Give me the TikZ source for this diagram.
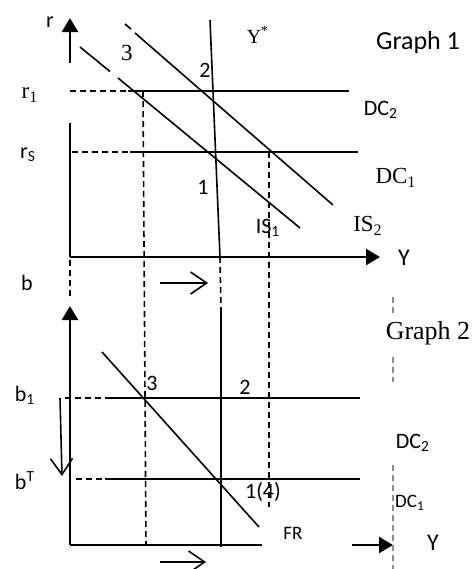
\documentclass[tikz,border=0pt]{standalone}
\usepackage{fontspec}
\setmainfont{Liberation Serif}
\setsansfont{Carlito}
\usetikzlibrary{arrows.meta}
\tikzset{
  axisline/.style={line width=1.25pt},
  curve/.style={line width=.8pt},
  guide/.style={line width=.8pt,dash pattern=on 3pt off 2pt},
  faint/.style={line width=.7pt,draw=black!45,dash pattern=on 3pt off 2pt},
  axisarrow/.style={-{Triangle[length=7pt,width=8pt]}},
  movearrow/.style={line width=.8pt,-{Straight Barb[length=8pt,width=11pt,line width=.8pt]}},
  lab/.style={font=\sffamily\fontsize{11}{13}\selectfont,inner sep=0pt},
  tlab/.style={font=\rmfamily\fontsize{11.5}{13}\selectfont,inner sep=0pt},
}

\begin{document}
\begin{tikzpicture}[x=0.5pt,y=-0.5pt]
    \useasboundingbox (0,0) rectangle (473,569);
    % graph 1: interest rate and output
    \coordinate (O1) at (70,257);
    \coordinate (rgap) at (70,123); \coordinate (rtop) at (70,63); \coordinate (rtip) at (70,18);
    \coordinate (Ytip) at (380,257);
    \draw[axisline] (O1) -- (rgap);
    \draw[axisline,axisarrow] (rtop) -- (rtip);
    \draw[axisline,axisarrow] (O1) -- (Ytip);
    % DC lines
    \coordinate (r1a) at (70,91); \coordinate (r1b) at (128,91); \coordinate (r1c) at (349,91);
    \coordinate (rSa) at (72,152); \coordinate (rSb) at (130,152); \coordinate (rSc) at (358,152);
    \draw[guide] (r1a) -- (r1b); \draw[curve] (r1b) -- (r1c);
    \draw[guide] (rSa) -- (rSb); \draw[curve] (rSb) -- (rSc);
    % IS curves
    \coordinate (is1a) at (80,47); \coordinate (is1b) at (110,71.5);
    \coordinate (is1c) at (118,78); \coordinate (is1d) at (300,228);
    \draw[curve] (is1a) -- (is1b); \draw[curve] (is1c) -- (is1d);
    \coordinate (is2a) at (125,24); \coordinate (is2b) at (131,29);
    \coordinate (is2c) at (135,33); \coordinate (is2d) at (333,205);
    \draw[curve] (is2a) -- (is2b); \draw[curve] (is2c) -- (is2d);
    % full employment output
    \coordinate (ysa) at (210,20); \coordinate (ysb) at (220,257);
    \coordinate (ysc) at (221,310); \coordinate (ysd) at (221,547);
    \draw[curve] (ysa) -- (ysb); \draw[guide] (ysb) -- (ysc); \draw[curve] (ysc) -- (ysd);
    % vertical guides
    \coordinate (g3a) at (143,91); \coordinate (g3b) at (146,545);
    \coordinate (g4a) at (269,152); \coordinate (g4b) at (269,507);
    \draw[guide] (g3a) -- (g3b);
    \draw[guide] (g4a) -- (g4b);
    \node[lab] (r) at (50,22) {r};
    \node[tlab] (r1) at (30,95) {r\textsubscript{1}};
    \node[lab] (rS) at (28,155) {r\textsubscript{S}};
    \node[tlab,font=\rmfamily\fontsize{10}{12}\selectfont] (ystar) at (258,35) {Y\textsuperscript{*}};
    \node[lab,font=\sffamily\fontsize{13}{15}\selectfont] (g1) at (418,43) {Graph 1};
    \node[tlab] (p3) at (127,53) {3};
    \node[lab] (p2) at (205,70) {2};
    \node[lab] (p1) at (203,187) {1};
    \node[lab] (dc2) at (381,110) {DC\textsubscript{2}};
    \node[tlab] (dc1) at (396,178) {DC\textsubscript{1}};
    \node[lab] (is1) at (268,228) {IS\textsubscript{1}};
    \node[tlab] (is2) at (368,226) {IS\textsubscript{2}};
    \node[lab,font=\sffamily\fontsize{12}{14}\selectfont] (Y1) at (404,258) {Y};
    % graph 2: debt and output
    \coordinate (O2) at (70,545);
    \coordinate (bdash) at (70,260); \coordinate (bdash2) at (70,300); \coordinate (btip) at (70,306);
    \coordinate (Ygap1) at (262,545); \coordinate (Ygap2) at (352,545); \coordinate (Ytip2) at (393,545);
    \draw[guide] (bdash) -- (bdash2);
    \draw[axisline,axisarrow] (O2) -- (btip);
    \draw[axisline] (O2) -- (Ygap1);
    \draw[axisline,axisarrow] (Ygap2) -- (Ytip2);
    \coordinate (b1a) at (65,398); \coordinate (b1b) at (110,398); \coordinate (b1c) at (360,398);
    \coordinate (bTa) at (76,479); \coordinate (bTb) at (105,479); \coordinate (bTc) at (360,479);
    \draw[guide] (b1a) -- (b1b); \draw[curve] (b1b) -- (b1c);
    \draw[guide] (bTa) -- (bTb); \draw[curve] (bTb) -- (bTc);
    \coordinate (fra) at (102,352); \coordinate (frb) at (259,527);
    \draw[curve] (fra) -- (frb);
    % adjustment arrows
    \coordinate (da) at (60,398); \coordinate (db) at (62,476);
    \coordinate (ra) at (160,283); \coordinate (rb) at (208,283);
    \coordinate (sa) at (160,562); \coordinate (sb) at (206,562);
    \draw[movearrow] (da) -- (db);
    \draw[movearrow] (ra) -- (rb);
    \draw[movearrow] (sa) -- (sb);
    % faint line on the right
    \coordinate (fa) at (393,297); \coordinate (fb) at (393,313);
    \coordinate (fc) at (393,357); \coordinate (fd) at (393,382);
    \coordinate (fe) at (393,465); \coordinate (ff) at (393,569);
    \draw[faint] (fa) -- (fb); \draw[faint] (fc) -- (fd); \draw[faint] (fe) -- (ff);
    \node[lab] (b) at (27,283) {b};
    \node[lab] (b1) at (25,395) {b\textsubscript{1}};
    \node[lab] (bT) at (25,481) {b\textsuperscript{T}};
    \node[lab] (q3) at (152,383) {3};
    \node[lab] (q2) at (245,387) {2};
    \node[lab] (q14) at (263,492) {1(4)};
    \node[lab,font=\sffamily\fontsize{9.5}{11}\selectfont] (fr) at (293,533) {FR};
    \node[lab,font=\sffamily\fontsize{12}{14}\selectfont] (Y2) at (433,543) {Y};
    \node[tlab,font=\rmfamily\fontsize{13}{15}\selectfont] (g2) at (428,333) {Graph 2};
    \node[lab] (dcb2) at (413,443) {DC\textsubscript{2}};
    \node[lab,font=\sffamily\fontsize{9.5}{11}\selectfont] (dcb1) at (410,503) {DC\textsubscript{1}};
\end{tikzpicture}
\end{document}
